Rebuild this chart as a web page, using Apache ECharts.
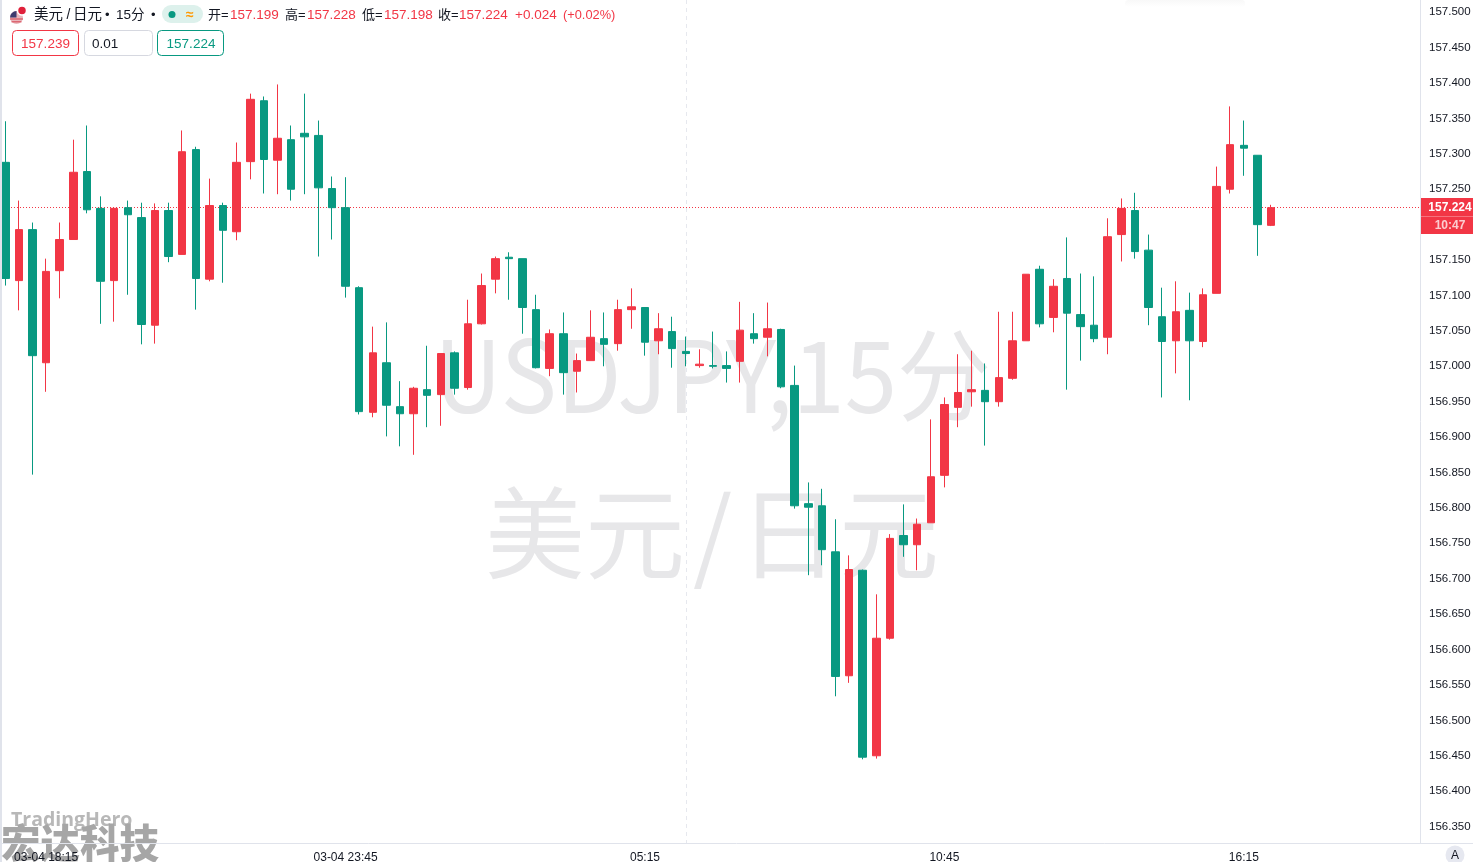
<!DOCTYPE html>
<html><head><meta charset="utf-8">
<style>html,body{margin:0;padding:0;background:#fff}#c{width:1473px;height:862px}</style>
<script src="https://cdn.jsdelivr.net/npm/echarts@6/dist/echarts.min.js"></script>
</head><body><div id="c"></div>
<script>
const opens=[157.288,157.121,157.193,157.005,157.135,157.179,157.275,157.223,157.121,157.224,157.210,157.058,157.220,157.158,157.306,157.123,157.227,157.190,157.289,157.375,157.291,157.320,157.329,157.326,157.251,157.224,157.111,156.935,157.005,156.943,156.933,156.967,156.960,157.019,156.970,157.060,157.123,157.154,157.152,157.080,156.997,157.046,156.993,157.008,157.039,157.032,157.080,157.083,157.036,157.049,157.021,157.001,157.001,157.001,157.007,157.046,157.041,157.052,156.973,156.806,156.803,156.738,156.563,156.712,156.450,156.616,156.761,156.748,156.779,156.846,156.942,156.964,156.966,156.950,156.983,157.036,157.137,157.069,157.124,157.073,157.058,157.041,157.186,157.220,157.164,157.070,157.036,157.079,157.035,157.103,157.250,157.312,157.298,157.199];
const closes=[157.124,157.193,157.015,157.134,157.179,157.274,157.221,157.120,157.223,157.214,157.059,157.220,157.155,157.303,157.124,157.227,157.192,157.288,157.377,157.292,157.322,157.250,157.324,157.252,157.224,157.113,156.936,157.019,156.945,156.933,156.969,156.959,157.018,156.969,157.060,157.114,157.152,157.152,157.083,156.998,157.046,156.991,157.008,157.041,157.031,157.080,157.084,157.034,157.053,157.025,157.018,157.003,157.000,156.997,157.051,157.039,157.053,156.971,156.803,156.801,156.741,156.562,156.713,156.448,156.616,156.757,156.748,156.777,156.844,156.946,156.963,156.967,156.950,156.984,157.036,157.130,157.060,157.113,157.075,157.056,157.039,157.183,157.223,157.162,157.083,157.035,157.077,157.036,157.101,157.254,157.313,157.308,157.200,157.224];
const lows=[157.114,157.079,156.847,156.964,157.096,157.179,157.216,157.060,157.063,157.101,157.031,157.032,157.147,157.158,157.080,157.120,157.118,157.178,157.264,157.244,157.243,157.234,157.243,157.155,157.179,157.097,156.932,156.928,156.901,156.887,156.875,156.914,156.916,156.960,156.967,157.059,157.103,157.094,157.046,156.997,156.986,156.960,156.963,157.008,157.000,157.022,157.053,157.015,157.017,156.998,157.000,156.998,156.997,156.977,156.977,157.032,157.014,156.969,156.799,156.705,156.719,156.534,156.553,156.445,156.446,156.614,156.731,156.712,156.779,156.829,156.914,156.943,156.888,156.943,156.981,157.036,157.055,157.048,156.967,157.008,157.034,157.017,157.148,157.152,157.058,156.956,156.990,156.952,157.027,157.103,157.244,157.269,157.156,157.198];
const highs=[157.346,157.234,157.203,157.152,157.203,157.320,157.340,157.240,157.224,157.234,157.231,157.230,157.231,157.333,157.310,157.265,157.231,157.316,157.385,157.381,157.398,157.340,157.385,157.347,157.268,157.267,157.113,157.056,157.062,156.979,156.971,157.029,157.018,157.021,157.094,157.131,157.155,157.161,157.152,157.101,157.052,157.076,157.018,157.079,157.076,157.094,157.110,157.083,157.075,157.070,157.042,157.024,157.049,157.021,157.091,157.075,157.090,157.053,157.001,156.836,156.827,156.784,156.733,156.713,156.678,156.763,156.805,156.785,156.925,156.956,157.017,157.022,157.004,157.077,157.077,157.130,157.142,157.123,157.182,157.131,157.127,157.209,157.237,157.245,157.186,157.111,157.120,157.104,157.110,157.282,157.367,157.347,157.298,157.228];
const tickIndex=[3,25,47,69,91];
const tickLabels=['03-04 18:15','03-04 23:45','05:15','10:45','16:15'];
const futureSlots=10;
const lastPrice=157.224, askPrice='157.239', bidPrice='157.224', lotSize='0.01', countdown='10:47';
const crossIndex=50;
const categories=[];
for(let i=0;i<opens.length+futureSlots;i++){
  const m=17*60+30+15*i, h=Math.floor(m/60)%24, mm=m%60;
  categories.push(String(h).padStart(2,'0')+':'+String(mm).padStart(2,'0'));
}
const candles=opens.map((o,i)=>[o,closes[i],lows[i],highs[i]]);
const UP='#F23645',DOWN='#089981',BORDER='#E0E3EB',FONT='"Liberation Sans","Noto Sans CJK SC",sans-serif',WMF='"Noto Sans CJK SC",sans-serif',WM='#E7E7E9';
const txt=(x,y,s,fill,size,extra,z)=>({type:'text',x,y,z:z==null?120:z,silent:true,style:Object.assign({text:s,fill,fontSize:size||13,fontFamily:FONT,textVerticalAlign:'middle',verticalAlign:'middle'},extra||{})});
const wm=(x,y,s,extra)=>Object.assign({type:'text',z:-10,silent:true,x,y,style:{text:s,fill:WM,fontSize:100,fontFamily:WMF,verticalAlign:'middle',textVerticalAlign:'middle'}},extra||{});
const box=(x,y,w,h,stroke)=>({type:'rect',z:110,silent:true,shape:{x:x+.5,y:y+.5,width:w,height:h,r:4},style:{fill:'#fff',stroke,lineWidth:1}});
const line=(x1,y1,x2,y2,stroke,w)=>({type:'line',z:111,silent:true,shape:{x1,y1,x2,y2},style:{stroke,lineWidth:w||1}});
const chart=echarts.init(document.getElementById('c'),null,{renderer:'canvas'});
chart.setOption({
  animation:false,backgroundColor:'#fff',
  grid:{left:-1.5,top:-23.2,width:1415.44,height:885.2,containLabel:false,outerBoundsMode:'none'},
  xAxis:{type:'category',data:categories,boundaryGap:true,offset:-19,
    axisLine:{show:false},axisTick:{show:false},splitLine:{show:false},
    axisLabel:{margin:8.5,color:'#131722',fontSize:12,fontFamily:FONT,hideOverlap:false,
      interval:(i)=>tickIndex.includes(i),
      formatter:(v,i)=>{const k=tickIndex.indexOf(i);return k>=0?tickLabels[k]:'';}}},
  yAxis:{type:'value',position:'right',offset:6.06,min:156.30,max:157.55,interval:0.05,scale:true,
    axisLine:{show:false},axisTick:{show:false},splitLine:{show:false},
    axisLabel:{margin:9,color:'#131722',fontSize:11.5,fontFamily:FONT,showMinLabel:false,showMaxLabel:false,formatter:(v)=>v.toFixed(3)}},
  series:[{type:'candlestick',data:candles,barWidth:8,clip:false,
    itemStyle:{color:UP,color0:DOWN,borderColor:UP,borderColor0:DOWN,borderWidth:1},
    markLine:{silent:true,symbol:'none',animation:false,label:{show:false},z:1,
      data:[
        [{x:2,yAxis:lastPrice,lineStyle:{color:UP,width:1,type:[1,2]}},{x:1420,yAxis:lastPrice}],
        [{xAxis:crossIndex,y:0,lineStyle:{color:'#E6E8EE',width:1,type:[4,4]}},{xAxis:crossIndex,y:843}]
      ]}
  }],
  graphic:{elements:[
    wm(434,375,'USDJPY,15分',{scaleX:0.94}),
    wm(485,533,'美元'),wm(693,533,'/'),wm(739,533,'日元'),
    txt(11,820,'TradingHero','#B8B8B8',19.5,{fontWeight:'bold',fontFamily:'"Open Sans","Liberation Sans",sans-serif'},-5),
    txt(1,843,'宏达科技','#A6A6A6',39.5,{fontWeight:900,fontFamily:'"Noto Sans CJK SC",sans-serif'},-5),
    {type:'line',z:105,silent:true,shape:{x1:1420.5,y1:0,x2:1420.5,y2:843},style:{stroke:BORDER,lineWidth:1}},
    {type:'line',z:105,silent:true,shape:{x1:0,y1:843.5,x2:1473,y2:843.5},style:{stroke:BORDER,lineWidth:1}},
    {type:'rect',z:106,silent:true,shape:{x:0,y:0,width:2,height:862},style:{fill:BORDER}},
    {type:'rect',z:-9,silent:true,shape:{x:1125,y:0,width:120,height:7,r:4},style:{fill:{type:'linear',x:0,y:0,x2:0,y2:1,colorStops:[{offset:0,color:'#F8F8F8'},{offset:1,color:'#FFFFFF'}]}}},
    {type:'rect',z:110,silent:true,shape:{x:1421,y:198,width:52,height:18},style:{fill:UP}},
    {type:'rect',z:110,silent:true,shape:{x:1421,y:216,width:52,height:18},style:{fill:UP}},
    line(1421,216.5,1473,216.5,'rgba(255,255,255,.3)'),
    txt(1450,207.5,lastPrice.toFixed(3),'#fff',12,{textAlign:'center',align:'center',fontWeight:'bold'}),
    txt(1450,225.5,countdown,'rgba(255,255,255,.75)',12,{textAlign:'center',align:'center',fontWeight:'bold'}),
    {type:'circle',z:110,silent:true,shape:{cx:16.5,cy:17.5,r:6.5},style:{fill:'#E9B6BC'}},
    {type:'sector',z:112,silent:true,shape:{cx:16.5,cy:17.5,r0:0,r:6.5,startAngle:Math.PI,endAngle:Math.PI*1.5},style:{fill:'#3C3B6E'}},
    line(10,19,23,19,'#D9545F',1.2),line(11.5,21.8,21.5,21.8,'#D9545F',1.2),
    {type:'circle',z:113,silent:true,shape:{cx:22,cy:10.5,r:4.5},style:{fill:'#E0203A',stroke:'#fff',lineWidth:1.5}},
    txt(34,15,'美元','#131722',14.5),txt(66.5,15,'/','#131722',14),txt(73,15,'日元','#131722',14.5),
    txt(105,15,'•','#131722',13),
    txt(116,15,'15分','#131722',13.5),
    txt(151,15,'•','#131722',13),
    {type:'rect',z:110,silent:true,shape:{x:162,y:5,width:41,height:18,r:9},style:{fill:'#DDF1EC'}},
    {type:'circle',z:111,silent:true,shape:{cx:172,cy:14.5,r:3.5},style:{fill:DOWN}},
    txt(186,15,'≈','#FF9800',14,{fontWeight:'bold'}),
    txt(208,15,'开=','#131722',13),txt(230,15,'157.199',UP,13.5),
    txt(285,15,'高=','#131722',13),txt(307,15,'157.228',UP,13.5),
    txt(362,15,'低=','#131722',13),txt(384,15,'157.198',UP,13.5),
    txt(438,15,'收=','#131722',13),txt(459,15,'157.224',UP,13.5),
    txt(515,15,'+0.024',UP,13.5),txt(563,15,'(+0.02%)',UP,12.8),
    box(12,30,66,25,UP),txt(45.5,44,askPrice,UP,13.5,{textAlign:'center',align:'center'}),
    box(84,30,68,25,'#D6D8E0'),txt(92,44.5,lotSize,'#131722',13.5),
    box(157,30,66,25,DOWN),txt(191,44,bidPrice,DOWN,13.5,{textAlign:'center',align:'center'}),
    {type:'circle',z:110,silent:true,shape:{cx:1455,cy:855,r:9.5},style:{fill:'#E6E8F0'}},
    txt(1455,856,'A','#131722',12,{textAlign:'center',align:'center'})
  ]}
});
</script></body></html>
